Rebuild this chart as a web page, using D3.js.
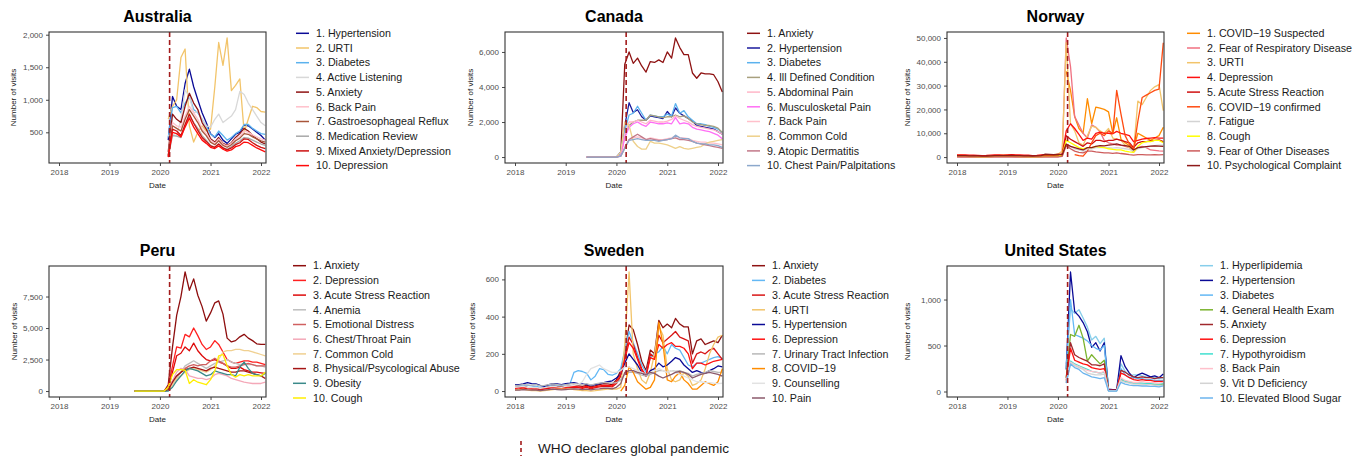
<!DOCTYPE html>
<html><head><meta charset="utf-8">
<script src="https://cdn.jsdelivr.net/npm/d3@7"></script>
<style>body{margin:0;background:#fff;} text{font-family:"Liberation Sans",Arial,Helvetica,sans-serif;}</style>
</head><body>
<svg id="chart" width="1369" height="459"></svg>
<script>
// ---------------- DATA ----------------
// month index 0 = Jan 2018; each series lists monthly values from its start month
const xTickYears = [2018, 2019, 2020, 2021, 2022];
const pandemicDate = new Date(2020, 2, 11);
const pandemicLabel = "WHO declares global pandemic";

// Australia (start Mar 2020)
const ausStart = 26;
const ausLabels = ["1. Hypertension","2. URTI","3. Diabetes","4. Active Listening","5. Anxiety","6. Back Pain","7. Gastroesophageal Reflux","8. Medication Review","9. Mixed Anxiety/Depression","10. Depression"];
const ausYTicks = [500, 1000, 1500, 2000];
const ausHypertension = [380,1050,900,850,1250,1470,1200,1000,800,650,480,420,480,380,330,400,470,500,610,600,550,500,450,380];
const ausURTI = [700,900,1000,1650,1780,600,350,500,600,520,550,1200,1880,1530,1950,1140,1220,1320,500,700,900,880,820,810];
const ausDiabetes = [420,880,900,800,950,1050,850,800,700,600,470,430,520,450,380,420,480,520,620,620,560,520,480,470];
const ausActiveListening = [450,470,450,700,1150,1050,800,820,700,600,580,700,780,650,700,750,850,1130,1080,950,850,750,650,600];
const ausAnxiety = [200,780,700,650,900,1100,950,850,650,550,400,350,420,330,300,340,420,480,560,520,450,400,350,320];
const ausBackPain = [150,650,600,580,750,900,800,700,550,480,380,330,400,320,290,330,400,440,520,500,460,430,400,380];
const ausGastro = [150,600,560,520,700,850,750,650,520,450,350,310,370,300,270,310,370,410,480,470,430,400,370,350];
const ausMedReview = [130,450,440,420,600,750,650,560,450,380,300,270,320,260,240,280,330,370,420,410,380,350,320,300];
const ausMixed = [130,550,520,450,620,780,640,530,420,360,290,270,320,260,230,260,310,340,400,390,340,300,270,250];
const ausDepression = [120,500,480,430,580,720,580,480,380,330,270,250,290,240,210,230,280,300,350,340,300,260,230,200];

// Canada (start Jun 2019)
const canStart = 17;
const canLabels = ["1. Anxiety","2. Hypertension","3. Diabetes","4. Ill Defined Condition","5. Abdominal Pain","6. Musculosketal Pain","7. Back Pain","8. Common Cold","9. Atopic Dermatitis","10. Chest Pain/Palpitations"];
const canYTicks = [0, 2000, 4000, 6000];
const canAnxiety = [0,0,0,0,0,0,0,0,200,5300,6000,5350,5650,5200,4850,5450,5400,5550,5400,6000,5650,6800,6250,5850,5850,4800,4500,4800,4750,4750,4700,4300,3720];
const canHypertension = [0,0,0,0,0,0,0,0,300,1800,3100,2550,2700,2300,2100,2350,2300,2250,2200,2600,2300,2800,2500,2350,2200,2050,1800,1750,1700,1650,1600,1450,1300];
const canDiabetes = [0,0,0,0,0,0,0,0,200,1500,2400,2500,2900,2500,2100,2400,2350,2300,2300,2450,2350,3050,2500,2650,2300,2100,1900,1900,1850,1750,1700,1600,1400];
const canIllDefined = [0,0,0,0,0,0,0,0,100,1200,1800,2000,2100,2100,2100,2400,2350,2300,2250,2300,2300,2400,2300,2350,2200,2000,1900,1850,1800,1800,1750,1650,1400];
const canAbdominal = [0,0,0,0,0,0,0,0,100,1300,2000,2000,2100,2000,1900,2100,2050,2000,2000,2050,2150,2350,2200,2100,2000,1850,1750,1700,1650,1600,1550,1450,1300];
const canMusculo = [0,0,0,0,0,0,0,0,100,1100,1700,1900,2000,1850,1750,2000,1950,1900,1900,1950,1900,2250,1900,1950,1900,1700,1600,1550,1500,1450,1350,1250,1050];
const canBackPain = [0,0,0,0,0,0,0,0,50,600,1000,1100,1150,1100,1000,1100,1050,1000,1000,1050,1100,1200,1100,1100,1050,950,900,850,850,800,800,750,700];
const canCommonCold = [0,0,0,0,0,0,0,0,300,2000,1800,900,600,450,450,900,800,800,750,700,600,500,600,500,450,500,550,600,750,850,900,950,1000];
const canAtopic = [0,0,0,0,0,0,0,0,50,500,1000,1150,1300,1150,1000,1050,1000,950,950,1000,1050,1100,1000,1000,950,900,800,750,700,650,600,550,500];
const canChestPain = [0,0,0,0,0,0,0,0,50,500,950,1000,1050,1000,950,950,950,900,950,1000,1050,1250,1100,1050,1050,900,800,750,750,700,700,650,550];

// Norway (start Jan 2018, COVID series later)
const norLabels = ["1. COVID\u221219 Suspected","2. Fear of Respiratory Disease","3. URTI","4. Depression","5. Acute Stress Reaction","6. COVID\u221219 confirmed","7. Fatigue","8. Cough","9. Fear of Other Diseases","10. Psychological Complaint"];
const norYTicks = [0, 10000, 20000, 30000, 40000, 50000];
const norStarts = [26, 0, 0, 0, 0, 28, 0, 0, 0, 0];
const norCovidSuspected = [36000,28000,17000,12000,10000,24500,14000,21000,20500,20000, 19000,10000,16500,7500,6000,4800,3500,10000,9000,8000,7000,8000, 9000,12500];
const norFearResp = [50,40,40,30,30,20,20,30,40,50,60,60, 50,50,40,30,30,20,20,30,40,50,60,70, 80,1500,50000,38000,17000,13500,10000,8000,13500,12500,10500,7000, 6000,5500,5000,5000,4500,4000,2000,4000,4500,4000,3000,2800, 2600,2500];
const norURTI = [800,900,700,500,400,300,200,300,500,700,800,900, 900,1000,800,600,400,300,200,300,500,800,900,1000, 1200,2500,48000,14000,11000,6000,5000,9000,13000,12500,11000,10000, 12000,8000,7500,7000,5000,4000,2500,23500,22000,25000,28000,29500, 30400,19500];
const norDepression = [900,950,900,850,800,750,600,700,850,950,950,850, 950,1000,950,900,850,800,650,750,900,1000,1000,950, 1100,1200,11000,14000,12000,9500,7000,8000,7500,10000,10500,10000, 10000,9800,10800,10000,9500,9000,6500,7000,7500,7800,8000,8200, 8000,8000];
const norAcuteStress = [600,650,600,550,500,500,400,450,550,600,600,550, 650,700,650,600,550,500,450,500,600,650,650,600, 700,800,9000,7500,6500,5500,4500,6000,5500,7000,7000,6500, 7000,7000,7500,7000,6500,6000,4000,6000,6500,6500,6800,7000, 7200,6500];
const norCovidConfirmed = [1000,600,400,2500,6000,9000,10000,9000, 11000,10000,28000,18000,9000,5500,3000,15000,25000,26000,27000,28000, 28500,48000];
const norFatigue = [200,220,200,180,170,160,130,150,180,200,200,190, 210,220,210,200,190,170,140,160,190,210,210,200, 230,300,5000,4500,3500,3000,2500,3500,3500,4000,4000,4000, 4000,3800,4000,3800,3500,3200,2500,3500,4000,4200,4500,4800, 5000,5000];
const norCough = [300,350,300,250,200,150,100,150,250,300,300,300, 300,350,300,250,200,150,100,150,250,300,300,300, 350,1000,7000,6000,5000,4000,3500,4000,4000,4500,4200,4000, 3500,3200,3000,3000,2500,2200,2000,4500,6000,6500,6500,7000, 7000,6000];
const norFearOther = [100,100,100,90,90,80,70,80,90,100,100,100, 100,110,100,90,90,80,70,80,90,100,110,110, 120,300,5000,3500,2500,2000,1800,2500,2500,2200,2000,1800, 1800,1600,1800,1500,1300,1000,800,1000,1000,900,900,1000, 950,1000];
const norPsych = [600,650,600,550,500,500,400,450,550,650,650,600, 650,700,650,600,550,500,450,500,650,1200,1100,1000, 1100,1000,5500,4500,4000,3500,3000,4000,4000,4500,4800,4700, 5000,5200,5500,5000,4800,4500,3000,4000,4200,4400,4600,4700, 4600,4500];

// Peru (start Jul 2019)
const perStart = 18;
const perLabels = ["1. Anxiety","2. Depression","3. Acute Stress Reaction","4. Anemia","5. Emotional Distress","6. Chest/Throat Pain","7. Common Cold","8. Physical/Psycological Abuse","9. Obesity","10. Cough"];
const perYTicks = [0, 2500, 5000, 7500];
const perAnxiety = [0,0,0,0,0,0,0,0, 500,3500,6000,7500,9450,8000,8900,7600,6700,5550,6200,7000,7150,6100,4200,3900,4000,4300,4500,4200,4000,3750,3700,3700];
const perDepression = [0,0,0,0,0,0,0,0, 300,2000,3500,3400,4500,4300,5000,4400,3700,3300,3500,4000,3700,3100,2500,2300,2200,2300,2400,2400,2300,2300,2200,2100];
const perAcuteStress = [0,0,0,0,0,0,0,0, 200,1500,2800,3000,3500,3200,3800,3200,2800,2500,2400,2500,2300,2200,2000,1800,1800,1900,1700,1600,1500,1500,1450,1400];
const perAnemia = [0,0,0,0,0,0,0,0, 100,500,1000,1500,2000,2200,2400,2200,2000,1800,2000,2200,2300,2400,2500,2300,2200,2100,2200,2100,2100,2000,2000,1900];
const perEmotional = [0,0,0,0,0,0,0,0, 200,800,1200,1500,1800,2000,2100,2000,2100,2100,2400,2600,2400,2200,2000,1900,1900,2000,2100,2200,2100,2000,2000,2000];
const perChestThroat = [0,0,0,0,0,0,0,0, 100,800,1500,1800,1700,1200,1100,1000,1000,900,1000,1300,1400,1300,1200,1000,900,800,700,650,600,600,600,700];
const perCommonCold = [0,0,0,0,0,0,0,0, 100,500,1000,1200,1500,1700,1800,1700,1600,1500,1700,2000,2500,3100,3200,3200,3300,3300,3200,3200,3100,3000,2900,2800];
const perAbuse = [0,0,0,0,0,0,0,0, 100,700,1200,1500,1700,1800,1900,1800,1700,1600,1800,1900,1800,1700,1600,1500,1500,1600,1600,1500,1400,1300,1200,1000];
const perObesity = [0,0,0,0,0,0,0,0, 0,300,800,1200,1600,1800,1700,1600,1400,1200,1300,1600,1500,1400,1300,1300,1200,1900,2300,1800,1400,1300,1200,1400];
const perCough = [0,0,0,0,0,0,0,0, 300,1300,1700,1700,1650,600,900,700,600,500,900,1600,2800,2900,2000,1300,1100,1300,1200,1300,1200,1200,1200,1500];

// Sweden (start Jan 2018, COVID-19 from Feb 2020)
const sweLabels = ["1. Anxiety","2. Diabetes","3. Acute Stress Reaction","4. URTI","5. Hypertension","6. Depression","7. Urinary Tract Infection","8. COVID\u221219","9. Counselling","10. Pain"];
const sweYTicks = [0, 200, 400, 600];
const sweStarts = [0, 0, 0, 0, 0, 0, 0, 25, 0, 0];
const sweAnxiety = [20,22,25,20,18,22,15,20,25,28,25,22, 25,28,30,28,25,30,22,28,35,40,38,35, 60,110,200,355,330,250,160,110,220,200,380,340, 360,340,390,360,345,345,200,270,280,250,260,270, 260,300];
const sweDiabetes = [30,28,32,30,28,25,20,25,30,35,32,30, 35,40,100,110,105,95,60,80,120,115,90,85, 95,120,220,320,260,200,140,100,180,200,210,240, 200,250,230,220,180,140,130,150,150,160,170,180, 185,175];
const sweAcuteStress = [10,12,15,12,10,12,8,10,15,18,15,12, 15,18,20,18,15,20,12,18,22,25,25,22, 40,80,180,290,250,180,120,80,200,180,300,260, 280,300,320,290,280,270,150,200,210,200,220,230, 200,170];
const sweURTI = [5,8,10,5,3,2,0,2,5,8,10,12, 10,12,8,5,3,2,0,2,5,8,10,12, 10,20,250,640,200,120,60,40,100,200,350,300, 120,60,50,60,100,80,30,40,60,120,200,250, 290,300];
const sweHypertension = [35,35,38,45,40,38,30,25,35,40,38,35, 40,42,45,40,38,35,30,35,40,45,50,55, 70,90,150,200,170,140,100,80,110,120,150,130, 140,160,180,170,140,120,100,110,100,95,110,120, 135,130];
const sweDepression = [15,18,20,18,15,18,12,15,20,22,20,18, 20,22,25,22,20,25,18,22,28,30,30,28, 50,90,170,260,230,170,110,80,180,170,250,230, 250,260,240,240,230,200,120,150,150,140,150,160, 165,170];
const sweUTI = [30,32,35,33,30,35,28,30,35,38,35,32, 35,38,40,38,35,40,32,38,42,45,45,42, 45,60,90,100,100,95,85,80,90,100,110,110, 100,110,105,110,100,95,80,90,95,100,110,105, 100,100];
const sweCovid = [0,30,130,100,50,30,10,20,60,370,250, 60,50,80,100,60,40,10,10,30,50,40,30, 50,120];
const sweCounselling = [20,22,25,20,18,20,15,18,22,25,22,20, 25,28,30,35,50,90,120,130,140,120,110,100, 100,110,130,130,120,110,100,90,100,110,120,110, 100,110,100,90,80,70,60,50,50,45,45,42, 40,42];
const swePain = [5,5,8,6,5,5,3,5,8,10,8,6, 8,10,12,10,8,10,6,10,12,15,15,12, 20,40,100,110,110,100,95,90,100,95,80,70, 80,90,100,105,100,90,70,80,90,95,100,95, 90,80];

// United States (start Mar 2020)
const usaStart = 26;
const usaLabels = ["1. Hyperlipidemia","2. Hypertension","3. Diabetes","4. General Health Exam","5. Anxiety","6. Depression","7. Hypothyroidism","8. Back Pain","9. Vit D Deficiency","10. Elevated Blood Sugar"];
const usaYTicks = [0, 500, 1000];
const usaHyperlipidemia = [300,900,850,890,800,700,560,600,520,580,20,15,15,300,220,170,180,180,170,160,160,150,140,150];
const usaHypertension = [240,1300,870,820,750,650,480,530,440,530,25,20,20,390,270,200,150,180,200,180,160,170,150,190];
const usaDiabetes = [250,1000,620,600,580,550,500,470,450,500,15,10,10,250,180,150,150,140,140,130,130,120,120,120];
const usaGeneralHealth = [150,620,600,720,580,330,400,350,300,340,10,10,10,130,110,100,90,90,85,80,80,75,70,80];
const usaAnxiety = [150,530,400,370,350,330,290,290,280,300,15,15,15,230,210,180,160,150,160,150,150,140,150,150];
const usaDepression = [120,470,340,320,300,290,260,250,240,250,12,12,12,200,180,150,130,120,130,120,120,110,110,110];
const usaHypothyroid = [100,330,300,280,260,240,220,210,200,210,10,10,10,140,110,100,90,90,90,85,85,80,80,85];
const usaBackPain = [100,320,290,270,250,230,220,210,200,220,10,10,10,150,120,110,100,100,110,100,100,95,90,100];
const usaVitD = [90,310,280,260,240,200,190,180,180,190,8,8,8,120,100,90,80,80,80,75,75,70,65,70];
const usaBloodSugar = [90,300,260,240,200,180,160,150,140,150,5,5,5,100,80,70,65,65,60,60,55,55,50,60];

// ---------------- STYLE ----------------
const ausColors = ["#0A0A96","#F2C46A","#5BB2EE","#D8D8D8","#8E1212","#FFC0CB","#A8553A","#A8A8A8","#CC1010","#FF0A0A"];
const canColors = ["#8E1212","#1A1A9C","#5BB2EE","#A8A07E","#FFB6C8","#FF6EF5","#FFC0CB","#EED08A","#C27888","#8CA8CC"];
const norColors = ["#FF8C00","#F07080","#F2C46A","#FF1010","#D01010","#FF4A10","#D3D3D3","#FFFF00","#CD5C5C","#8E1A1A"];
const perColors = ["#8E0E0E","#FF2020","#DD0A0A","#BEBEBE","#D06060","#F4A8B8","#F0D090","#A51515","#3A8A8A","#FFEE00"];
const sweColors = ["#8E1212","#63B8F5","#D81515","#F2C46A","#0A0A96","#FF1010","#B8B8B8","#FF8C00","#E2E2E2","#8B5A6B"];
const usaColors = ["#87CEEB","#0A0A96","#63B8F5","#7BB32E","#A0282C","#FF1010","#40E0D0","#FFC0CB","#D3D3D3","#6CB4EE"];

const panels = [
  {title:"Australia", row:0, col:0, start:ausStart, labels:ausLabels, colors:ausColors, yTicks:ausYTicks,
   values:[ausHypertension,ausURTI,ausDiabetes,ausActiveListening,ausAnxiety,ausBackPain,ausGastro,ausMedReview,ausMixed,ausDepression]},
  {title:"Canada", row:0, col:1, start:canStart, labels:canLabels, colors:canColors, yTicks:canYTicks,
   values:[canAnxiety,canHypertension,canDiabetes,canIllDefined,canAbdominal,canMusculo,canBackPain,canCommonCold,canAtopic,canChestPain]},
  {title:"Norway", row:0, col:2, starts:norStarts, labels:norLabels, colors:norColors, yTicks:norYTicks,
   values:[norCovidSuspected,norFearResp,norURTI,norDepression,norAcuteStress,norCovidConfirmed,norFatigue,norCough,norFearOther,norPsych]},
  {title:"Peru", row:1, col:0, start:perStart, labels:perLabels, colors:perColors, yTicks:perYTicks,
   values:[perAnxiety,perDepression,perAcuteStress,perAnemia,perEmotional,perChestThroat,perCommonCold,perAbuse,perObesity,perCough]},
  {title:"Sweden", row:1, col:1, starts:sweStarts, labels:sweLabels, colors:sweColors, yTicks:sweYTicks,
   values:[sweAnxiety,sweDiabetes,sweAcuteStress,sweURTI,sweHypertension,sweDepression,sweUTI,sweCovid,sweCounselling,swePain]},
  {title:"United States", row:1, col:2, start:usaStart, labels:usaLabels, colors:usaColors, yTicks:usaYTicks,
   values:[usaHyperlipidemia,usaHypertension,usaDiabetes,usaGeneralHealth,usaAnxiety,usaDepression,usaHypothyroid,usaBackPain,usaVitD,usaBloodSugar]}
];

// ---------------- LAYOUT ----------------
const colL = [49, 505, 947], colR = [266, 723, 1164];
const rowT = [32, 266], rowB = [163, 397];
const legTextX = [[316, 767, 1207], [313, 772, 1220]];
const yTitleX = [[13, 470, 907], [14, 472, 907]];
const legY0 = [33.3, 265.7], legDy = 14.7;
const vlineColor = "#A31C1C";

const svg = d3.select("#chart");
svg.append("rect").attr("width",1369).attr("height",459).attr("fill","#fff");
const defs = svg.append("defs");

panels.forEach((p, pi) => {
  const L = colL[p.col], R = colR[p.col], T = rowT[p.row], B = rowB[p.row];
  const x = d3.scaleTime().domain([new Date(2018,0,1), new Date(2022,0,1)]).range([L+10, R-5]);
  const series = p.values.map((arr, k) => {
    const s = p.starts ? p.starts[k] : p.start;
    return arr.map((v, i) => ({date: new Date(2018, s + i, 1), v}));
  });
  const all = series.flat().map(d => d.v).filter(v => v != null);
  const mn = d3.min(all), mx = d3.max(all), pad = (mx - mn) * 0.05;
  const y = d3.scaleLinear().domain([mn - pad, mx + pad]).range([B, T]);

  const cid = "clip" + pi;
  defs.append("clipPath").attr("id", cid).append("rect")
    .attr("x", L).attr("y", T).attr("width", R - L).attr("height", B - T);

  const g = svg.append("g");
  const plot = g.append("g").attr("clip-path", `url(#${cid})`);
  const line = d3.line().defined(d => d.v != null).x(d => x(d.date)).y(d => y(d.v));
  series.forEach((s, k) => {
    plot.append("path").datum(s).attr("d", line).attr("fill", "none")
      .attr("stroke", p.colors[k]).attr("stroke-width", 1.3)
      .attr("stroke-linejoin", "round").attr("stroke-linecap", "butt");
  });
  const xv = x(pandemicDate);
  plot.append("line").attr("x1", xv).attr("x2", xv).attr("y1", T).attr("y2", B)
    .attr("stroke", vlineColor).attr("stroke-width", 1.6).attr("stroke-dasharray", "5,3");

  g.append("rect").attr("x", L).attr("y", T).attr("width", R - L).attr("height", B - T)
    .attr("fill", "none").attr("stroke", "#333").attr("stroke-width", 1.1);

  const xa = g.append("g").attr("transform", `translate(0,${B})`)
    .call(d3.axisBottom(x).tickValues(xTickYears.map(yr => new Date(yr,0,1)))
      .tickFormat(d3.timeFormat("%Y")).tickSize(3).tickPadding(3));
  const ya = g.append("g").attr("transform", `translate(${L},0)`)
    .call(d3.axisLeft(y).tickValues(p.yTicks).tickFormat(d3.format(",")).tickSize(3).tickPadding(3));
  [xa, ya].forEach(a => {
    a.select(".domain").remove();
    a.selectAll(".tick line").attr("stroke", "#333").attr("stroke-width", 0.9);
    a.selectAll(".tick text").attr("fill", "#4D4D4D").style("font-size", "8px")
      .style("font-family", "'Liberation Sans', Arial, sans-serif");
  });

  g.append("text").attr("x", (L + R) / 2).attr("y", T - 10.5).attr("text-anchor", "middle")
    .style("font-size", "16px").style("font-weight", "bold").attr("fill", "#000").text(p.title);
  g.append("text").attr("x", (L + R) / 2).attr("y", B + 25).attr("text-anchor", "middle")
    .style("font-size", "8px").attr("fill", "#1a1a1a").text("Date");
  g.append("text").attr("transform", `translate(${yTitleX[p.row][p.col]},${(T + B) / 2}) rotate(-90)`)
    .attr("text-anchor", "middle").attr("dy", "0.35em")
    .style("font-size", "8px").attr("fill", "#1a1a1a").text("Number of visits");

  const tx = legTextX[p.row][p.col];
  const lg = g.append("g");
  p.labels.forEach((lab, k) => {
    const yy = legY0[p.row] + k * legDy;
    lg.append("line").attr("x1", tx - 20).attr("x2", tx - 7).attr("y1", yy).attr("y2", yy)
      .attr("stroke", p.colors[k]).attr("stroke-width", 1.5);
    lg.append("text").attr("x", tx).attr("y", yy).attr("dy", "0.35em")
      .style("font-size", "10.7px").attr("fill", "#1a1a1a").text(lab);
  });
});

// bottom legend
svg.append("line").attr("x1", 521).attr("x2", 521).attr("y1", 441).attr("y2", 456)
  .attr("stroke", vlineColor).attr("stroke-width", 1.6).attr("stroke-dasharray", "4,3");
svg.append("text").attr("x", 538).attr("y", 448.5).attr("dy", "0.35em")
  .style("font-size", "13.6px").attr("fill", "#1a1a1a").text(pandemicLabel);
</script>
</body></html>
